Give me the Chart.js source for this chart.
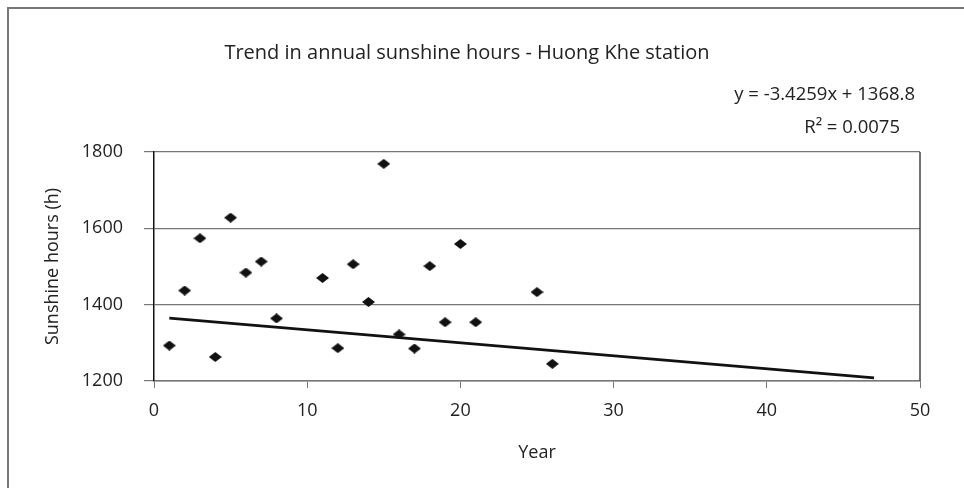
<!DOCTYPE html>
<html>
<head>
<meta charset="utf-8">
<script src="https://cdn.jsdelivr.net/npm/chart.js@4/dist/chart.umd.min.js"></script>
<style>
  body { margin: 0; background: #fff; }
  canvas { display: block; }
</style>
</head>
<body>
<canvas id="chart" width="964" height="488"></canvas>
<script>
// values
const years = [1, 2, 3, 4, 5, 6, 7, 8, 11, 12, 13, 14, 15, 16, 17, 18, 19, 20, 21, 25, 26];
const hours = [1293, 1437, 1574, 1263, 1628, 1484, 1513, 1364, 1470, 1286, 1506, 1407, 1769, 1322, 1285, 1501, 1354, 1559, 1354, 1433, 1245];
const trendX = [1, 47];
const trendY = [1365, 1208];
const xTicks = [0, 10, 20, 30, 40, 50];
const yTicks = [1200, 1400, 1600, 1800];

const titleText = "Trend in annual sunshine hours - Huong Khe station";
const eqText = "y = -3.4259x + 1368.8";
const r2Text = "R\u00B2 = 0.0075";

const FONT = "'Open Sans', 'DejaVu Sans', sans-serif";
const TXT = '#222';

// flat diamond marker like the excel one
let diamond = document.createElement('canvas');
diamond.width = 13;
diamond.height = 10;
let dc = diamond.getContext('2d');
dc.fillStyle = '#111';
dc.beginPath();
dc.moveTo(6.5, 0);
dc.lineTo(13, 5);
dc.lineTo(6.5, 10);
dc.lineTo(0, 5);
dc.closePath();
dc.fill();

const extras = {
    id: 'extras',
    afterDraw(chart) {
        const c = chart.ctx;
        const a = chart.chartArea;
        c.save();
        // outer frame (only top and left visible)
        c.strokeStyle = '#777';
        c.lineWidth = 2;
        c.beginPath();
        c.moveTo(8, 488);
        c.lineTo(8, 8);
        c.lineTo(964, 8);
        c.stroke();
        // right border of the plot
        c.strokeStyle = '#444';
        c.lineWidth = 1.5;
        c.beginPath();
        c.moveTo(a.right, a.top);
        c.lineTo(a.right, a.bottom);
        c.stroke();

        c.fillStyle = TXT;
        c.textBaseline = 'middle';
        c.font = '20px ' + FONT;
        c.textAlign = 'center';
        c.fillText(titleText, 467, 53);
        c.font = '18.5px ' + FONT;
        c.textAlign = 'right';
        c.fillText(eqText, 915, 95);
        c.fillText(r2Text, 900, 128);
        c.restore();
    }
};

let ctx = document.getElementById('chart').getContext('2d');
let chart = new Chart(ctx, {
    type: 'scatter',
    data: {
        datasets: [
            {
                label: 'Sunshine hours',
                data: years.map((x, i) => ({ x: x, y: hours[i] })),
                pointStyle: diamond,
                pointRadius: 6,
                backgroundColor: '#111',
                borderColor: '#111'
            },
            {
                type: 'line',
                label: 'Linear trend',
                data: trendX.map((x, i) => ({ x: x, y: trendY[i] })),
                borderColor: '#111',
                borderWidth: 2.8,
                pointRadius: 0,
                fill: false
            }
        ]
    },
    options: {
        responsive: false,
        animation: false,
        layout: { padding: { left: 0, right: 44, top: 152, bottom: 0 } },
        plugins: {
            legend: { display: false },
            tooltip: { enabled: false }
        },
        scales: {
            x: {
                type: 'linear',
                min: 0,
                max: 50,
                afterBuildTicks(s) { s.ticks = xTicks.map(v => ({ value: v })); },
                afterFit(s) { s.height = 107; },
                ticks: { color: TXT, padding: 12, callback: v => String(v), font: { family: FONT, size: 18 } },
                grid: { drawOnChartArea: false, drawTicks: true, tickLength: 7, color: '#777' },
                border: { color: '#777', width: 1.5 },
                title: { display: true, text: 'Year', color: TXT, padding: 24, font: { family: FONT, size: 18 } }
            },
            y: {
                min: 1200,
                max: 1800,
                afterBuildTicks(s) { s.ticks = yTicks.map(v => ({ value: v })); },
                afterFit(s) { s.width = 154; },
                ticks: { color: TXT, padding: 21, callback: v => String(v), font: { family: FONT, size: 18 } },
                grid: { color: '#777', lineWidth: 1.2, tickLength: 10 },
                border: { color: '#111', width: 1.5 },
                title: { display: true, text: 'Sunshine hours (h)', color: TXT, padding: 42, font: { family: FONT, size: 18 } }
            }
        }
    },
    plugins: [extras]
});
</script>
</body>
</html>
